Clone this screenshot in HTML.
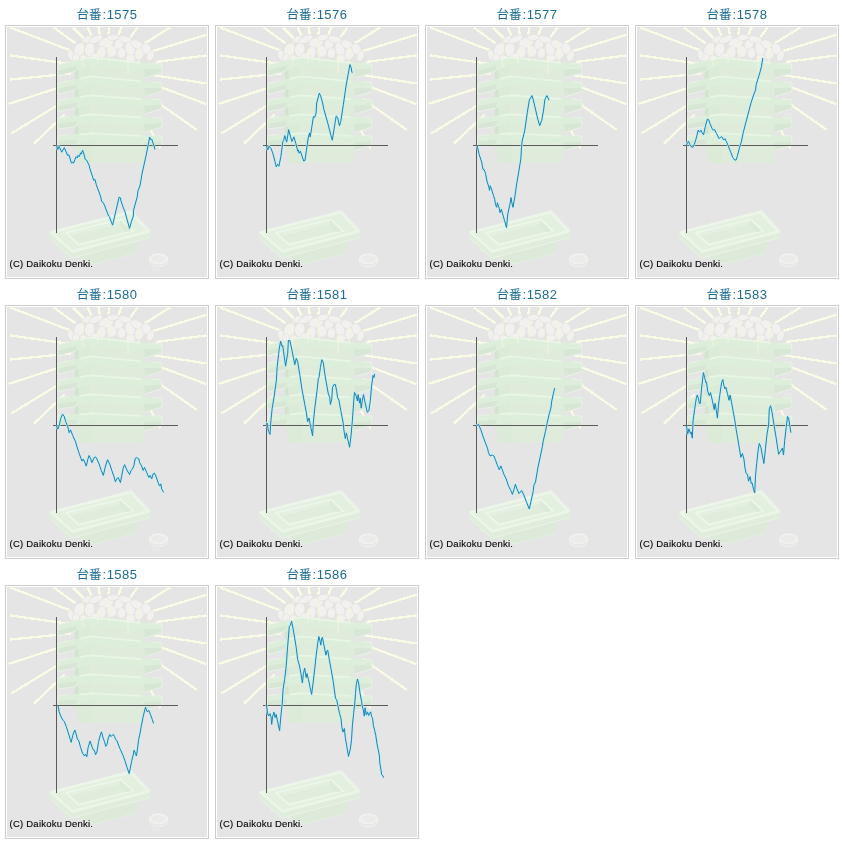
<!DOCTYPE html>
<html lang="ja"><head><meta charset="utf-8"><title>graph</title>
<style>
html,body{margin:0;padding:0;background:#fff;}
body{width:844px;height:844px;overflow:hidden;font-family:"Liberation Sans","Noto Sans CJK JP",sans-serif;}
.w{padding:0 0 0 2px;width:842px;}
.c{float:left;width:210px;height:280px;text-align:center;}
.t{height:25px;line-height:29px;font-size:13px;color:#1b6b93;letter-spacing:0.45px;}
.j{font-size:12.5px;letter-spacing:0;margin-right:1px;}
.f{margin:0 0 0 3px;box-sizing:border-box;width:204px;height:254px;border:1px solid #ccc;padding:1px;}
.f svg{display:block;}
.ax{stroke:#5a5a5a;stroke-width:1;fill:none;shape-rendering:crispEdges;}
.ln{stroke:#2280a8;stroke-width:1;fill:none;stroke-linejoin:round;}
.lh{stroke:#b9f0fb;stroke-width:2.4;fill:none;stroke-linejoin:round;opacity:.85;}
.cp{font-family:"Liberation Sans",sans-serif;font-size:9.5px;fill:#000;stroke:#000;stroke-width:0.12px;}
</style></head><body>
<svg width="0" height="0" style="position:absolute"><defs><g id="wm">
<rect width="200" height="250" fill="#e5e5e5"/>
<g stroke="#fafbe4" stroke-width="2.3" stroke-linecap="butt" shape-rendering="crispEdges"><line x1="2.9" y1="0.4" x2="76.7" y2="28.5"/><line x1="46.6" y1="0.4" x2="79.7" y2="24.4"/><line x1="66.0" y1="0.4" x2="85.6" y2="20.0"/><line x1="80.6" y1="0.0" x2="90.1" y2="20.4"/><line x1="91.5" y1="0.0" x2="94.9" y2="21.5"/><line x1="102.4" y1="0.0" x2="99.0" y2="21.5"/><line x1="114.6" y1="0.0" x2="105.5" y2="21.8"/><line x1="130.4" y1="0.4" x2="113.9" y2="24.1"/><line x1="163.2" y1="0.4" x2="122.1" y2="26.0"/><line x1="199.6" y1="7.7" x2="130.3" y2="28.8"/><line x1="2.9" y1="28.4" x2="67.8" y2="37.6"/><line x1="2.9" y1="52.6" x2="64.1" y2="46.4"/><line x1="1.6" y1="76.9" x2="63.5" y2="56.9"/><line x1="4.1" y1="106.6" x2="59.7" y2="72.6"/><line x1="27.1" y1="116.3" x2="58.0" y2="87.3"/><line x1="199.6" y1="28.4" x2="139.6" y2="36.2"/><line x1="199.6" y1="56.5" x2="142.1" y2="47.4"/><line x1="199.6" y1="77.2" x2="144.0" y2="56.5"/><line x1="189.9" y1="102.9" x2="145.6" y2="71.9"/><line x1="153.5" y1="121.2" x2="137.1" y2="90.7"/></g>
<g fill="#f2f1ef" stroke="#e0e0dd" stroke-width="0.6"><path d="M59.5,34 Q61,24 68,17 Q76,9 90,8 Q104,6.5 120,9.5 Q136,13 144,22 Q149.5,29 149,36 L60,37 Z" fill="#e4e4e2" stroke="none"/><ellipse cx="64.2" cy="28.5" rx="3.3" ry="5.9" transform="rotate(-20 64.2 28.5)"/><ellipse cx="72.1" cy="23" rx="5.1" ry="7.6" transform="rotate(20 72.1 23)"/><ellipse cx="82.7" cy="22.5" rx="5.1" ry="7.1" transform="rotate(10 82.7 22.5)"/><ellipse cx="80.6" cy="12.5" rx="4.6" ry="3.3" transform="rotate(-30 80.6 12.5)"/><ellipse cx="89.1" cy="12.2" rx="7.6" ry="3.4" transform="rotate(-25 89.1 12.2)"/><ellipse cx="99.1" cy="15.8" rx="7.6" ry="5.1" transform="rotate(-15 99.1 15.8)"/><ellipse cx="94.8" cy="25" rx="4.2" ry="5.9" transform="rotate(0 94.8 25)"/><ellipse cx="104.8" cy="24.3" rx="5.1" ry="5.9" transform="rotate(5 104.8 24.3)"/><ellipse cx="111.9" cy="17.2" rx="4.5" ry="5.4" transform="rotate(30 111.9 17.2)"/><ellipse cx="118" cy="12.5" rx="7.1" ry="3.5" transform="rotate(15 118 12.5)"/><ellipse cx="123" cy="22" rx="4.7" ry="7.3" transform="rotate(-15 123 22)"/><ellipse cx="114.5" cy="26" rx="4.2" ry="5.4" transform="rotate(10 114.5 26)"/><ellipse cx="130" cy="17.5" rx="6.5" ry="4.2" transform="rotate(25 130 17.5)"/><ellipse cx="132.5" cy="26.5" rx="4.7" ry="6.4" transform="rotate(20 132.5 26.5)"/><ellipse cx="139.5" cy="22" rx="4.5" ry="6.1" transform="rotate(-25 139.5 22)"/><ellipse cx="143.5" cy="29" rx="3.5" ry="5.4" transform="rotate(25 143.5 29)"/><ellipse cx="106" cy="10.5" rx="5.9" ry="3.1" transform="rotate(-5 106 10.5)"/><ellipse cx="69" cy="31" rx="3.5" ry="4.2" transform="rotate(0 69 31)"/><ellipse cx="88" cy="30" rx="4.7" ry="4.1" transform="rotate(0 88 30)"/><ellipse cx="124" cy="31" rx="4.7" ry="3.5" transform="rotate(0 124 31)"/><ellipse cx="76.5" cy="31.5" rx="4.0" ry="3.5" transform="rotate(0 76.5 31.5)"/></g>
<polygon points="67.5,39.5 83.5,36.5 83.5,56.5 67.5,58.5" fill="#dbebd8"/><polygon points="83.5,36.5 136.0,42.1 136.0,59.5 83.5,56.5" fill="#dfecdc"/><polygon points="67.5,39.5 71.0,39.0 72.0,57.5 68.5,58.5" fill="#d2e3cf"/><polygon points="50.5,38.0 83.5,29.5 134.0,35.0 154.8,37.2 154.8,46.2 138.0,50.9 135.5,43.5 83.5,38.5 68.8,44.3 50.5,49.0" fill="#ddeeda"/><polygon points="50.5,43.5 70.0,38.5 68.8,44.3 50.5,49.0" fill="#d8e7d5"/><polygon points="137.0,42.3 154.8,42.5 154.8,46.2 138.0,50.9" fill="#d8e7d5"/><polyline points="68.8,44.3 50.5,49.0 50.5,38.0 62.0,35.0" fill="none" stroke="#eef2ec" stroke-width="0.8"/><polyline points="138.0,50.9 154.8,46.2 154.8,37.2 146.0,36.2" fill="none" stroke="#eef2ec" stroke-width="0.8"/><polyline points="73.0,33.0 83.5,30.3 134.0,35.8" fill="none" stroke="#e9f6e7" stroke-width="1.8"/><polygon points="67.5,58.5 83.5,55.5 83.5,75.5 67.5,77.5" fill="#dbebd8"/><polygon points="83.5,55.5 136.0,60.7 136.0,78.5 83.5,75.5" fill="#dfecdc"/><polygon points="67.5,58.5 71.0,58.0 72.0,76.5 68.5,77.5" fill="#d2e3cf"/><polygon points="50.5,56.5 83.5,48.5 134.0,53.5 154.8,55.6 154.8,64.6 138.0,69.5 135.5,62.1 83.5,57.5 68.8,63.1 50.5,67.5" fill="#ddeeda"/><polygon points="50.5,62.0 70.0,57.3 68.8,63.1 50.5,67.5" fill="#d8e7d5"/><polygon points="137.0,60.9 154.8,60.9 154.8,64.6 138.0,69.5" fill="#d8e7d5"/><polyline points="68.8,63.1 50.5,67.5 50.5,56.5 62.0,53.7" fill="none" stroke="#eef2ec" stroke-width="0.8"/><polyline points="138.0,69.5 154.8,64.6 154.8,55.6 146.0,54.7" fill="none" stroke="#eef2ec" stroke-width="0.8"/><polyline points="73.0,51.9 83.5,49.3 134.0,54.3" fill="none" stroke="#e9f6e7" stroke-width="1.8"/><polygon points="67.5,77.5 83.5,74.5 83.5,94.5 67.5,96.5" fill="#dbebd8"/><polygon points="83.5,74.5 136.0,78.4 136.0,97.5 83.5,94.5" fill="#dfecdc"/><polygon points="67.5,77.5 71.0,77.0 72.0,95.5 68.5,96.5" fill="#d2e3cf"/><polygon points="50.5,73.5 83.5,67.5 134.0,71.3 154.8,72.8 154.8,81.8 138.0,87.1 135.5,79.8 83.5,76.5 68.8,81.2 50.5,84.5" fill="#ddeeda"/><polygon points="50.5,79.0 70.0,75.5 68.8,81.2 50.5,84.5" fill="#d8e7d5"/><polygon points="137.0,78.5 154.8,78.1 154.8,81.8 138.0,87.1" fill="#d8e7d5"/><polyline points="68.8,81.2 50.5,84.5 50.5,73.5 62.0,71.4" fill="none" stroke="#eef2ec" stroke-width="0.8"/><polyline points="138.0,87.1 154.8,81.8 154.8,72.8 146.0,72.2" fill="none" stroke="#eef2ec" stroke-width="0.8"/><polyline points="73.0,70.2 83.5,68.3 134.0,72.1" fill="none" stroke="#e9f6e7" stroke-width="1.8"/><polygon points="67.5,96.5 83.5,93.5 83.5,113.5 67.5,115.5" fill="#dbebd8"/><polygon points="83.5,93.5 136.0,96.8 136.0,116.5 83.5,113.5" fill="#dfecdc"/><polygon points="67.5,96.5 71.0,96.0 72.0,114.5 68.5,115.5" fill="#d2e3cf"/><polygon points="50.5,91.3 83.5,86.5 134.0,89.7 154.8,91.0 154.8,100.0 138.0,105.4 135.5,98.2 83.5,95.5 68.8,99.7 50.5,102.3" fill="#ddeeda"/><polygon points="50.5,96.8 70.0,94.0 68.8,99.7 50.5,102.3" fill="#d8e7d5"/><polygon points="137.0,96.9 154.8,96.3 154.8,100.0 138.0,105.4" fill="#d8e7d5"/><polyline points="68.8,99.7 50.5,102.3 50.5,91.3 62.0,89.6" fill="none" stroke="#eef2ec" stroke-width="0.8"/><polyline points="138.0,105.4 154.8,100.0 154.8,91.0 146.0,90.4" fill="none" stroke="#eef2ec" stroke-width="0.8"/><polyline points="73.0,88.8 83.5,87.3 134.0,90.5" fill="none" stroke="#e9f6e7" stroke-width="1.8"/><polygon points="67.3,115.5 84.0,113.5 86.0,136.0 71.7,136.0" fill="#dbebd8"/><polygon points="84.0,113.5 138.1,117.5 135.5,136.0 86.0,136.0" fill="#dfecdc"/><polygon points="50.5,108.7 83.5,105.5 134.0,108.0 154.8,109.1 154.8,118.1 138.0,123.7 135.5,116.5 83.5,114.5 68.8,117.9 50.5,119.7" fill="#ddeeda"/><polygon points="50.5,114.2 70.0,112.3 68.8,117.9 50.5,119.7" fill="#d8e7d5"/><polygon points="137.0,115.2 154.8,114.4 154.8,118.1 138.0,123.7" fill="#d8e7d5"/><polyline points="68.8,117.9 50.5,119.7 50.5,108.7 62.0,107.6" fill="none" stroke="#eef2ec" stroke-width="0.8"/><polyline points="138.0,123.7 154.8,118.1 154.8,109.1 146.0,108.6" fill="none" stroke="#eef2ec" stroke-width="0.8"/><polyline points="73.0,107.3 83.5,106.3 134.0,108.8" fill="none" stroke="#e9f6e7" stroke-width="1.8"/>
<g stroke="#f4f2dc" stroke-width="1" fill="#f6f4e0"><line x1="76" y1="10" x2="76" y2="40"/><ellipse cx="76" cy="20.5" rx="1.3" ry="3.2" stroke="none"/><line x1="91" y1="22" x2="91" y2="36"/><ellipse cx="91" cy="26.9" rx="1.3" ry="3.2" stroke="none"/><line x1="102" y1="12" x2="102" y2="35"/><ellipse cx="102" cy="20.0" rx="1.3" ry="3.2" stroke="none"/><line x1="121" y1="24" x2="121" y2="47"/><ellipse cx="121" cy="32.0" rx="1.3" ry="3.2" stroke="none"/><line x1="132" y1="15" x2="132" y2="38"/><ellipse cx="132" cy="23.0" rx="1.3" ry="3.2" stroke="none"/></g>
<polygon points="50.4,220.3 86.9,236.4 126.9,226.4 130.5,215.3 82.8,206.2" fill="#ddeada" stroke="#ddeada" stroke-width="1.5" stroke-linejoin="round"/><polyline points="52.9,222.8 86.9,237.0 127.5,226.7" fill="none" stroke="#eaf4e8" stroke-width="0.8" stroke-dasharray="2 1.2"/><polygon points="43.3,206.2 64.8,225.7 141.8,205.5 141.8,210.2 64.8,230.1 43.3,210.5" fill="#e0eddd" stroke="#e0eddd" stroke-width="3" stroke-linejoin="round"/><polyline points="42.6,210.8 64.8,231.1 142.5,210.8" fill="none" stroke="#e8f3e6" stroke-width="0.9"/><polygon points="43.9,205.2 123.9,185.3 141.5,204.5 65.2,224.4" fill="#e3f0e0" stroke="#ebf6e9" stroke-width="2.6" stroke-linejoin="round"/><polyline points="42.3,205.5 124.6,183.3 143.8,203.9" fill="none" stroke="#f1f8ef" stroke-width="0.8" stroke-dasharray="2 1.2"/><polygon points="58.9,205.8 113.6,192.6 125.9,203.9 72.1,217.8" fill="#e0eddd" stroke="#ecf6ea" stroke-width="2" stroke-linejoin="round"/><polygon points="61.2,206.2 113.3,193.6 115.9,196.2 65.5,208.5" fill="#e4f0e1"/><polygon points="113.3,193.6 124.6,203.9 119.2,205.2 112.0,197.9" fill="#dbebd8"/>
<g><ellipse cx="151.6" cy="234.5" rx="9" ry="5.2" fill="#e6e6e4" stroke="#f2f2f0" stroke-width="1"/><ellipse cx="151.6" cy="231.9" rx="9" ry="5" fill="#eeeeec" stroke="#f4f4f2" stroke-width="1"/><ellipse cx="151.6" cy="231.9" rx="6.6" ry="3.4" fill="#ebebe9"/></g>
</g></defs></svg>
<div class="w">
<div class="c"><div class="t"><span class="j">台番</span>:1575</div><div class="f"><svg width="200" height="250" viewBox="0 0 200 250"><use href="#wm"/><path d="M49.5,30V206M46,118.5H171" class="ax"/><polyline class="lh" points="49.5,118.6 50.8,122.5 52.1,119.3 54.7,125.2 57.3,120.6 60.6,128.4 61.9,127.8 64.5,136.2 65.8,134.9 66.5,136.2 69.1,129.7 70.4,131.0 71.0,128.4 72.3,129.7 73.6,125.8 74.3,127.1 75.6,123.2 77.5,129.1 78.2,132.3 79.5,133.0 82.1,138.2 82.8,141.4 86.7,153.2 88.0,152.5 89.3,157.7 93.8,170.1 94.5,174.0 96.4,176.0 97.1,177.3 101.6,189.0 102.3,189.7 105.6,198.1 112.1,170.1 113.4,170.8 114.0,174.0 116.0,179.9 117.9,184.5 122.5,201.4 124.5,194.2 126.4,189.0 126.4,183.8 130.3,169.5 131.0,163.6 132.9,159.0 134.2,151.9 134.9,147.3 139.4,127.1 142.7,110.2 144.0,112.8 144.7,112.1 147.3,119.9 147.9,122.5"/><polyline class="ln" points="49.5,118.6 50.8,122.5 52.1,119.3 54.7,125.2 57.3,120.6 60.6,128.4 61.9,127.8 64.5,136.2 65.8,134.9 66.5,136.2 69.1,129.7 70.4,131.0 71.0,128.4 72.3,129.7 73.6,125.8 74.3,127.1 75.6,123.2 77.5,129.1 78.2,132.3 79.5,133.0 82.1,138.2 82.8,141.4 86.7,153.2 88.0,152.5 89.3,157.7 93.8,170.1 94.5,174.0 96.4,176.0 97.1,177.3 101.6,189.0 102.3,189.7 105.6,198.1 112.1,170.1 113.4,170.8 114.0,174.0 116.0,179.9 117.9,184.5 122.5,201.4 124.5,194.2 126.4,189.0 126.4,183.8 130.3,169.5 131.0,163.6 132.9,159.0 134.2,151.9 134.9,147.3 139.4,127.1 142.7,110.2 144.0,112.8 144.7,112.1 147.3,119.9 147.9,122.5"/><text x="2.6" y="239.8" class="cp" textLength="83.4" lengthAdjust="spacing">(C) Daikoku Denki.</text></svg></div></div><div class="c"><div class="t"><span class="j">台番</span>:1576</div><div class="f"><svg width="200" height="250" viewBox="0 0 200 250"><use href="#wm"/><path d="M49.5,30V206M46,118.5H171" class="ax"/><polyline class="lh" points="49.5,119.0 50.8,122.9 52.1,119.0 54.1,121.6 56.0,126.8 58.0,134.7 59.3,139.9 60.6,137.3 61.9,139.2 63.9,129.4 65.8,114.5 66.5,113.8 67.8,108.6 69.7,115.1 71.7,102.7 73.6,109.9 74.9,114.5 76.9,109.9 78.8,116.4 80.8,124.2 81.4,122.9 82.1,126.2 83.4,124.2 84.7,128.1 86.7,134.0 88.0,133.4 89.3,124.2 91.2,111.2 92.5,106.0 93.2,109.9 95.1,98.2 96.4,89.7 97.7,90.3 99.0,86.4 99.7,76.0 102.3,66.2 103.6,68.8 105.6,76.0 106.9,82.5 110.8,96.2 114.0,108.6 115.3,113.2 117.9,96.9 119.2,89.0 120.5,90.3 122.5,98.8 123.8,94.3 126.4,77.3 129.0,59.1 132.9,37.6 134.2,40.8 134.9,45.4 135.5,45.4"/><polyline class="ln" points="49.5,119.0 50.8,122.9 52.1,119.0 54.1,121.6 56.0,126.8 58.0,134.7 59.3,139.9 60.6,137.3 61.9,139.2 63.9,129.4 65.8,114.5 66.5,113.8 67.8,108.6 69.7,115.1 71.7,102.7 73.6,109.9 74.9,114.5 76.9,109.9 78.8,116.4 80.8,124.2 81.4,122.9 82.1,126.2 83.4,124.2 84.7,128.1 86.7,134.0 88.0,133.4 89.3,124.2 91.2,111.2 92.5,106.0 93.2,109.9 95.1,98.2 96.4,89.7 97.7,90.3 99.0,86.4 99.7,76.0 102.3,66.2 103.6,68.8 105.6,76.0 106.9,82.5 110.8,96.2 114.0,108.6 115.3,113.2 117.9,96.9 119.2,89.0 120.5,90.3 122.5,98.8 123.8,94.3 126.4,77.3 129.0,59.1 132.9,37.6 134.2,40.8 134.9,45.4 135.5,45.4"/><text x="2.6" y="239.8" class="cp" textLength="83.4" lengthAdjust="spacing">(C) Daikoku Denki.</text></svg></div></div><div class="c"><div class="t"><span class="j">台番</span>:1577</div><div class="f"><svg width="200" height="250" viewBox="0 0 200 250"><use href="#wm"/><path d="M49.5,30V206M46,118.5H171" class="ax"/><polyline class="lh" points="50.2,118.8 52.1,127.3 54.7,135.1 56.0,142.3 57.3,142.9 58.6,146.8 59.9,154.0 61.9,160.1 62.5,163.4 63.2,158.8 64.5,162.1 66.5,168.6 67.8,172.5 68.4,177.1 69.7,180.3 70.4,175.8 72.3,181.6 73.0,185.6 74.3,182.3 75.6,186.9 77.5,193.4 79.5,200.5 80.8,186.9 82.8,177.7 84.1,170.6 84.7,175.1 86.0,180.3 88.0,168.6 89.9,155.6 91.9,143.9 93.8,132.1 94.5,120.8 95.1,114.3 97.7,103.8 100.3,85.6 102.3,73.2 104.9,68.6 106.2,72.5 108.2,81.0 110.8,92.1 112.7,98.6 114.7,93.4 116.6,83.0 117.9,72.5 119.9,68.6 121.2,71.2 121.9,73.2"/><polyline class="ln" points="50.2,118.8 52.1,127.3 54.7,135.1 56.0,142.3 57.3,142.9 58.6,146.8 59.9,154.0 61.9,160.1 62.5,163.4 63.2,158.8 64.5,162.1 66.5,168.6 67.8,172.5 68.4,177.1 69.7,180.3 70.4,175.8 72.3,181.6 73.0,185.6 74.3,182.3 75.6,186.9 77.5,193.4 79.5,200.5 80.8,186.9 82.8,177.7 84.1,170.6 84.7,175.1 86.0,180.3 88.0,168.6 89.9,155.6 91.9,143.9 93.8,132.1 94.5,120.8 95.1,114.3 97.7,103.8 100.3,85.6 102.3,73.2 104.9,68.6 106.2,72.5 108.2,81.0 110.8,92.1 112.7,98.6 114.7,93.4 116.6,83.0 117.9,72.5 119.9,68.6 121.2,71.2 121.9,73.2"/><text x="2.6" y="239.8" class="cp" textLength="83.4" lengthAdjust="spacing">(C) Daikoku Denki.</text></svg></div></div><div class="c"><div class="t"><span class="j">台番</span>:1578</div><div class="f"><svg width="200" height="250" viewBox="0 0 200 250"><use href="#wm"/><path d="M49.5,30V206M46,118.5H171" class="ax"/><polyline class="lh" points="49.5,118.2 50.2,116.2 51.5,114.3 52.8,117.5 54.7,120.1 56.0,120.1 57.3,117.5 59.3,111.0 61.2,103.2 62.5,105.2 63.9,103.2 65.2,105.8 66.5,107.8 68.4,99.3 70.4,92.1 71.7,92.8 73.0,96.7 74.9,101.2 76.2,103.2 77.5,102.5 79.5,106.5 82.1,111.7 83.4,110.4 84.7,109.7 86.7,113.0 88.0,111.7 89.3,114.3 91.2,118.8 93.8,125.4 95.8,130.6 97.1,132.5 99.0,133.2 100.3,129.3 102.3,121.4 104.3,114.9 106.2,105.8 108.2,98.0 110.8,88.2 114.0,75.8 116.6,68.0 118.6,62.8 119.2,57.6 121.2,51.1 123.2,44.5 124.5,39.3 125.8,30.9"/><polyline class="ln" points="49.5,118.2 50.2,116.2 51.5,114.3 52.8,117.5 54.7,120.1 56.0,120.1 57.3,117.5 59.3,111.0 61.2,103.2 62.5,105.2 63.9,103.2 65.2,105.8 66.5,107.8 68.4,99.3 70.4,92.1 71.7,92.8 73.0,96.7 74.9,101.2 76.2,103.2 77.5,102.5 79.5,106.5 82.1,111.7 83.4,110.4 84.7,109.7 86.7,113.0 88.0,111.7 89.3,114.3 91.2,118.8 93.8,125.4 95.8,130.6 97.1,132.5 99.0,133.2 100.3,129.3 102.3,121.4 104.3,114.9 106.2,105.8 108.2,98.0 110.8,88.2 114.0,75.8 116.6,68.0 118.6,62.8 119.2,57.6 121.2,51.1 123.2,44.5 124.5,39.3 125.8,30.9"/><text x="2.6" y="239.8" class="cp" textLength="83.4" lengthAdjust="spacing">(C) Daikoku Denki.</text></svg></div></div><div class="c"><div class="t"><span class="j">台番</span>:1580</div><div class="f"><svg width="200" height="250" viewBox="0 0 200 250"><use href="#wm"/><path d="M49.5,30V206M46,118.5H171" class="ax"/><polyline class="lh" points="49.4,118.6 50.8,122.1 52.2,118.6 53.7,111.5 55.5,107.2 57.2,109.4 58.6,114.3 60.8,120.0 62.2,125.7 63.6,122.9 65.7,128.5 68.6,134.9 70.0,139.9 72.1,146.3 75.0,154.1 76.4,152.0 79.3,159.1 80.7,152.7 82.1,148.5 83.5,151.3 84.9,155.6 87.1,150.6 88.5,149.9 89.9,152.0 92.1,157.0 94.2,163.4 96.3,168.4 98.5,159.1 100.6,152.7 102.7,157.0 104.8,163.4 107.0,169.8 108.4,174.8 109.8,171.9 111.2,170.5 113.4,175.5 114.8,168.4 116.2,161.2 117.6,157.7 119.1,161.2 120.5,164.1 122.6,167.6 124.0,163.4 125.5,162.0 126.9,158.4 128.3,151.3 129.7,150.6 131.9,152.0 132.6,155.6 134.7,159.1 136.1,163.4 137.5,160.5 139.7,165.5 141.8,170.5 143.2,168.4 144.7,171.9 146.1,166.9 147.5,166.2 148.9,169.1 151.1,175.5 152.5,179.0 153.9,176.9 154.6,181.9 156.7,185.4"/><polyline class="ln" points="49.4,118.6 50.8,122.1 52.2,118.6 53.7,111.5 55.5,107.2 57.2,109.4 58.6,114.3 60.8,120.0 62.2,125.7 63.6,122.9 65.7,128.5 68.6,134.9 70.0,139.9 72.1,146.3 75.0,154.1 76.4,152.0 79.3,159.1 80.7,152.7 82.1,148.5 83.5,151.3 84.9,155.6 87.1,150.6 88.5,149.9 89.9,152.0 92.1,157.0 94.2,163.4 96.3,168.4 98.5,159.1 100.6,152.7 102.7,157.0 104.8,163.4 107.0,169.8 108.4,174.8 109.8,171.9 111.2,170.5 113.4,175.5 114.8,168.4 116.2,161.2 117.6,157.7 119.1,161.2 120.5,164.1 122.6,167.6 124.0,163.4 125.5,162.0 126.9,158.4 128.3,151.3 129.7,150.6 131.9,152.0 132.6,155.6 134.7,159.1 136.1,163.4 137.5,160.5 139.7,165.5 141.8,170.5 143.2,168.4 144.7,171.9 146.1,166.9 147.5,166.2 148.9,169.1 151.1,175.5 152.5,179.0 153.9,176.9 154.6,181.9 156.7,185.4"/><text x="2.6" y="239.8" class="cp" textLength="83.4" lengthAdjust="spacing">(C) Daikoku Denki.</text></svg></div></div><div class="c"><div class="t"><span class="j">台番</span>:1581</div><div class="f"><svg width="200" height="250" viewBox="0 0 200 250"><use href="#wm"/><path d="M49.5,30V206M46,118.5H171" class="ax"/><polyline class="lh" points="49.4,117.4 50.1,116.0 51.5,124.5 53.0,127.4 53.7,116.0 55.1,101.8 57.2,89.0 59.4,73.3 60.1,60.5 62.2,42.1 63.6,34.2 65.0,39.2 65.7,38.5 67.2,49.2 68.6,59.1 70.7,46.3 71.4,33.5 72.9,33.5 75.0,43.5 77.8,57.7 79.3,51.3 80.7,54.9 82.8,67.7 84.9,81.9 87.8,97.5 89.2,104.6 90.6,114.6 92.1,111.0 93.5,118.8 95.6,128.8 96.3,116.0 97.7,101.8 99.9,84.7 101.3,71.9 102.0,70.5 103.4,60.5 104.8,52.7 106.3,55.6 107.7,66.2 109.1,74.8 111.2,86.1 112.7,90.4 113.4,97.5 114.8,91.8 115.5,80.5 116.9,77.6 118.4,77.6 119.8,84.7 120.5,90.4 121.9,93.2 124.0,104.6 126.2,116.0 126.9,123.1 128.3,131.6 129.4,125.9 130.4,130.9 132.6,140.2 134.0,128.8 135.4,113.2 136.8,93.2 137.5,85.4 139.0,88.3 140.4,94.0 141.1,87.6 142.5,96.1 143.2,91.1 144.2,101.1 145.4,93.2 146.5,87.6 148.2,96.1 150.3,105.3 151.8,103.9 153.2,94.7 154.6,79.0 156.0,68.4 157.0,70.5 157.6,66.9"/><polyline class="ln" points="49.4,117.4 50.1,116.0 51.5,124.5 53.0,127.4 53.7,116.0 55.1,101.8 57.2,89.0 59.4,73.3 60.1,60.5 62.2,42.1 63.6,34.2 65.0,39.2 65.7,38.5 67.2,49.2 68.6,59.1 70.7,46.3 71.4,33.5 72.9,33.5 75.0,43.5 77.8,57.7 79.3,51.3 80.7,54.9 82.8,67.7 84.9,81.9 87.8,97.5 89.2,104.6 90.6,114.6 92.1,111.0 93.5,118.8 95.6,128.8 96.3,116.0 97.7,101.8 99.9,84.7 101.3,71.9 102.0,70.5 103.4,60.5 104.8,52.7 106.3,55.6 107.7,66.2 109.1,74.8 111.2,86.1 112.7,90.4 113.4,97.5 114.8,91.8 115.5,80.5 116.9,77.6 118.4,77.6 119.8,84.7 120.5,90.4 121.9,93.2 124.0,104.6 126.2,116.0 126.9,123.1 128.3,131.6 129.4,125.9 130.4,130.9 132.6,140.2 134.0,128.8 135.4,113.2 136.8,93.2 137.5,85.4 139.0,88.3 140.4,94.0 141.1,87.6 142.5,96.1 143.2,91.1 144.2,101.1 145.4,93.2 146.5,87.6 148.2,96.1 150.3,105.3 151.8,103.9 153.2,94.7 154.6,79.0 156.0,68.4 157.0,70.5 157.6,66.9"/><text x="2.6" y="239.8" class="cp" textLength="83.4" lengthAdjust="spacing">(C) Daikoku Denki.</text></svg></div></div><div class="c"><div class="t"><span class="j">台番</span>:1582</div><div class="f"><svg width="200" height="250" viewBox="0 0 200 250"><use href="#wm"/><path d="M49.5,30V206M46,118.5H171" class="ax"/><polyline class="lh" points="49.5,118.8 51.5,117.3 53.8,122.7 56.1,129.6 58.4,135.8 60.7,141.9 61.5,145.8 63.0,148.9 65.3,148.1 66.9,148.9 68.4,152.7 70.0,157.3 72.3,162.7 73.8,158.9 75.3,162.7 76.9,167.3 79.2,172.0 81.5,178.9 83.8,183.5 85.4,187.4 86.9,182.7 88.4,177.3 90.0,182.0 92.0,186.6 94.6,183.5 96.9,188.1 99.2,194.3 102.3,202.0 103.8,195.1 106.2,184.3 106.9,178.1 108.5,175.0 110.8,161.2 113.1,150.4 115.4,139.6 116.2,134.2 118.5,124.2 120.0,116.5 122.3,106.5 123.9,101.1 124.6,94.9 126.2,87.2 127.7,81.1"/><polyline class="ln" points="49.5,118.8 51.5,117.3 53.8,122.7 56.1,129.6 58.4,135.8 60.7,141.9 61.5,145.8 63.0,148.9 65.3,148.1 66.9,148.9 68.4,152.7 70.0,157.3 72.3,162.7 73.8,158.9 75.3,162.7 76.9,167.3 79.2,172.0 81.5,178.9 83.8,183.5 85.4,187.4 86.9,182.7 88.4,177.3 90.0,182.0 92.0,186.6 94.6,183.5 96.9,188.1 99.2,194.3 102.3,202.0 103.8,195.1 106.2,184.3 106.9,178.1 108.5,175.0 110.8,161.2 113.1,150.4 115.4,139.6 116.2,134.2 118.5,124.2 120.0,116.5 122.3,106.5 123.9,101.1 124.6,94.9 126.2,87.2 127.7,81.1"/><text x="2.6" y="239.8" class="cp" textLength="83.4" lengthAdjust="spacing">(C) Daikoku Denki.</text></svg></div></div><div class="c"><div class="t"><span class="j">台番</span>:1583</div><div class="f"><svg width="200" height="250" viewBox="0 0 200 250"><use href="#wm"/><path d="M49.5,30V206M46,118.5H171" class="ax"/><polyline class="lh" points="49.5,118.8 50.7,127.2 51.9,121.8 53.5,126.5 54.1,124.9 55.3,131.1 56.1,113.4 57.6,102.6 59.2,91.8 60.3,88.0 61.5,91.8 62.3,96.4 63.3,96.4 64.6,81.0 66.4,65.6 67.6,70.2 68.9,75.6 69.5,74.9 70.7,84.1 72.3,88.7 73.5,85.6 75.3,93.3 77.2,102.6 78.1,96.4 79.2,102.6 80.4,111.1 81.5,98.0 82.7,88.7 84.6,75.6 85.8,72.6 86.9,78.7 88.0,81.8 88.9,80.3 90.4,86.4 92.0,93.3 93.1,88.0 94.6,95.7 96.1,104.1 97.7,112.6 99.2,122.6 100.8,131.9 102.3,141.1 103.8,150.3 105.4,146.5 106.9,151.9 108.0,161.1 109.2,166.5 110.5,167.3 111.5,174.2 113.1,169.6 114.2,176.5 115.1,175.8 116.6,182.7 117.7,185.8 118.5,168.8 119.7,156.5 121.2,142.6 122.3,136.5 123.9,140.3 125.4,148.8 126.9,156.5 128.5,141.1 130.0,127.2 131.6,118.0 132.3,101.8 133.6,98.7 135.1,105.7 137.0,118.0 139.3,131.9 141.6,147.3 143.1,144.9 145.4,141.1 146.5,148.0 147.7,133.4 149.3,119.5 150.5,109.5 151.6,111.1 152.7,118.0 153.9,125.7"/><polyline class="ln" points="49.5,118.8 50.7,127.2 51.9,121.8 53.5,126.5 54.1,124.9 55.3,131.1 56.1,113.4 57.6,102.6 59.2,91.8 60.3,88.0 61.5,91.8 62.3,96.4 63.3,96.4 64.6,81.0 66.4,65.6 67.6,70.2 68.9,75.6 69.5,74.9 70.7,84.1 72.3,88.7 73.5,85.6 75.3,93.3 77.2,102.6 78.1,96.4 79.2,102.6 80.4,111.1 81.5,98.0 82.7,88.7 84.6,75.6 85.8,72.6 86.9,78.7 88.0,81.8 88.9,80.3 90.4,86.4 92.0,93.3 93.1,88.0 94.6,95.7 96.1,104.1 97.7,112.6 99.2,122.6 100.8,131.9 102.3,141.1 103.8,150.3 105.4,146.5 106.9,151.9 108.0,161.1 109.2,166.5 110.5,167.3 111.5,174.2 113.1,169.6 114.2,176.5 115.1,175.8 116.6,182.7 117.7,185.8 118.5,168.8 119.7,156.5 121.2,142.6 122.3,136.5 123.9,140.3 125.4,148.8 126.9,156.5 128.5,141.1 130.0,127.2 131.6,118.0 132.3,101.8 133.6,98.7 135.1,105.7 137.0,118.0 139.3,131.9 141.6,147.3 143.1,144.9 145.4,141.1 146.5,148.0 147.7,133.4 149.3,119.5 150.5,109.5 151.6,111.1 152.7,118.0 153.9,125.7"/><text x="2.6" y="239.8" class="cp" textLength="83.4" lengthAdjust="spacing">(C) Daikoku Denki.</text></svg></div></div><div class="c"><div class="t"><span class="j">台番</span>:1585</div><div class="f"><svg width="200" height="250" viewBox="0 0 200 250"><use href="#wm"/><path d="M49.5,30V206M46,118.5H171" class="ax"/><polyline class="lh" points="51.1,118.9 52.1,124.7 54.1,129.9 56.0,133.2 57.3,134.5 59.3,139.7 61.2,145.6 63.2,152.1 64.2,155.3 65.8,148.2 67.8,143.0 69.1,146.9 70.4,152.1 71.9,154.0 73.6,160.6 75.6,166.4 77.5,169.0 78.5,167.1 79.8,169.7 81.1,160.6 83.1,154.0 84.4,158.0 86.0,162.5 87.3,163.2 88.6,167.7 89.9,165.1 91.5,155.3 93.2,148.2 94.5,144.9 95.8,150.1 97.5,154.7 98.8,159.3 100.1,157.3 101.0,152.1 102.7,147.5 104.0,149.5 105.3,148.2 106.6,147.5 107.5,149.5 108.8,152.7 110.1,154.0 111.4,158.0 113.4,162.5 116.0,168.4 117.9,173.6 119.9,180.1 122.2,186.6 123.2,181.4 124.8,173.6 126.4,167.1 127.1,163.2 128.4,166.4 129.4,169.0 130.3,163.2 131.6,152.7 132.9,146.9 134.2,139.7 136.2,129.3 138.5,120.2 140.1,124.7 141.8,123.4 143.4,127.3 145.3,132.5 146.6,136.4"/><polyline class="ln" points="51.1,118.9 52.1,124.7 54.1,129.9 56.0,133.2 57.3,134.5 59.3,139.7 61.2,145.6 63.2,152.1 64.2,155.3 65.8,148.2 67.8,143.0 69.1,146.9 70.4,152.1 71.9,154.0 73.6,160.6 75.6,166.4 77.5,169.0 78.5,167.1 79.8,169.7 81.1,160.6 83.1,154.0 84.4,158.0 86.0,162.5 87.3,163.2 88.6,167.7 89.9,165.1 91.5,155.3 93.2,148.2 94.5,144.9 95.8,150.1 97.5,154.7 98.8,159.3 100.1,157.3 101.0,152.1 102.7,147.5 104.0,149.5 105.3,148.2 106.6,147.5 107.5,149.5 108.8,152.7 110.1,154.0 111.4,158.0 113.4,162.5 116.0,168.4 117.9,173.6 119.9,180.1 122.2,186.6 123.2,181.4 124.8,173.6 126.4,167.1 127.1,163.2 128.4,166.4 129.4,169.0 130.3,163.2 131.6,152.7 132.9,146.9 134.2,139.7 136.2,129.3 138.5,120.2 140.1,124.7 141.8,123.4 143.4,127.3 145.3,132.5 146.6,136.4"/><text x="2.6" y="239.8" class="cp" textLength="83.4" lengthAdjust="spacing">(C) Daikoku Denki.</text></svg></div></div><div class="c"><div class="t"><span class="j">台番</span>:1586</div><div class="f"><svg width="200" height="250" viewBox="0 0 200 250"><use href="#wm"/><path d="M49.5,30V206M46,118.5H171" class="ax"/><polyline class="lh" points="49.5,118.2 50.4,125.1 51.5,129.0 53.0,126.7 54.1,130.5 54.7,137.4 55.6,129.7 56.9,125.1 58.1,130.5 59.2,127.4 60.3,132.8 61.5,139.0 62.6,143.6 63.8,129.7 65.3,115.9 66.1,102.0 67.6,92.8 69.2,78.9 70.7,58.9 72.3,39.6 73.5,38.1 74.6,34.2 76.1,41.9 77.7,51.2 79.2,60.4 80.7,72.7 82.3,78.1 83.8,85.8 85.4,95.9 86.4,86.6 87.7,81.2 89.2,90.5 90.0,86.6 91.5,92.8 93.1,100.5 94.6,107.4 96.1,95.9 97.7,82.0 99.2,68.1 100.8,55.8 101.8,49.6 103.1,54.3 103.8,58.1 104.6,52.0 105.4,50.4 106.5,55.8 107.7,62.0 108.9,68.1 110.0,63.5 110.8,63.5 112.3,72.7 113.9,81.2 116.2,94.3 118.5,111.3 119.7,112.8 120.8,118.4 122.6,126.7 124.0,131.4 124.8,139.7 125.9,145.1 127.4,141.5 128.3,150.4 129.7,158.7 131.5,169.4 133.3,162.2 134.5,152.8 135.4,138.5 136.6,126.7 137.8,116.0 138.5,106.6 139.3,97.4 140.5,92.0 141.6,95.9 143.1,106.6 144.7,115.1 145.1,118.4 146.3,123.1 147.3,129.1 148.1,120.8 149.3,127.9 150.5,124.9 151.6,128.5 152.8,126.1 153.7,124.9 154.6,129.7 155.6,131.4 156.4,138.5 157.6,143.3 158.8,148.6 159.9,156.3 161.1,162.2 162.3,168.2 162.9,176.5 164.1,183.6 164.7,187.7 165.9,188.9 166.7,190.7"/><polyline class="ln" points="49.5,118.2 50.4,125.1 51.5,129.0 53.0,126.7 54.1,130.5 54.7,137.4 55.6,129.7 56.9,125.1 58.1,130.5 59.2,127.4 60.3,132.8 61.5,139.0 62.6,143.6 63.8,129.7 65.3,115.9 66.1,102.0 67.6,92.8 69.2,78.9 70.7,58.9 72.3,39.6 73.5,38.1 74.6,34.2 76.1,41.9 77.7,51.2 79.2,60.4 80.7,72.7 82.3,78.1 83.8,85.8 85.4,95.9 86.4,86.6 87.7,81.2 89.2,90.5 90.0,86.6 91.5,92.8 93.1,100.5 94.6,107.4 96.1,95.9 97.7,82.0 99.2,68.1 100.8,55.8 101.8,49.6 103.1,54.3 103.8,58.1 104.6,52.0 105.4,50.4 106.5,55.8 107.7,62.0 108.9,68.1 110.0,63.5 110.8,63.5 112.3,72.7 113.9,81.2 116.2,94.3 118.5,111.3 119.7,112.8 120.8,118.4 122.6,126.7 124.0,131.4 124.8,139.7 125.9,145.1 127.4,141.5 128.3,150.4 129.7,158.7 131.5,169.4 133.3,162.2 134.5,152.8 135.4,138.5 136.6,126.7 137.8,116.0 138.5,106.6 139.3,97.4 140.5,92.0 141.6,95.9 143.1,106.6 144.7,115.1 145.1,118.4 146.3,123.1 147.3,129.1 148.1,120.8 149.3,127.9 150.5,124.9 151.6,128.5 152.8,126.1 153.7,124.9 154.6,129.7 155.6,131.4 156.4,138.5 157.6,143.3 158.8,148.6 159.9,156.3 161.1,162.2 162.3,168.2 162.9,176.5 164.1,183.6 164.7,187.7 165.9,188.9 166.7,190.7"/><text x="2.6" y="239.8" class="cp" textLength="83.4" lengthAdjust="spacing">(C) Daikoku Denki.</text></svg></div></div>
</div>
</body></html>
